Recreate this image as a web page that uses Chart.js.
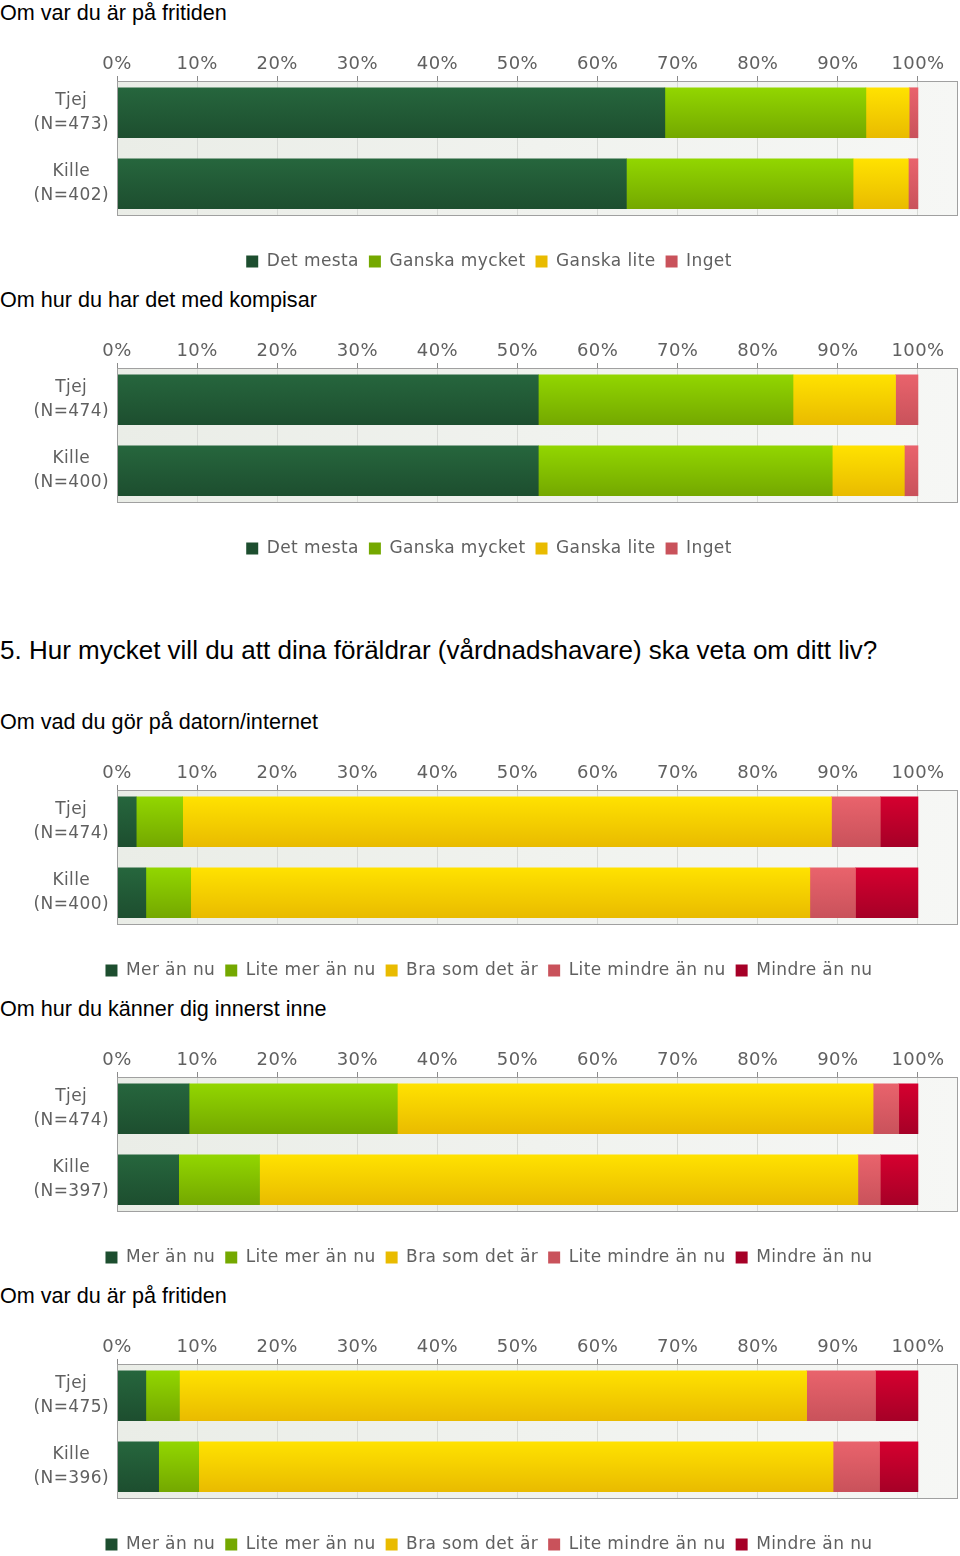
<!DOCTYPE html>
<html>
<head>
<meta charset="utf-8">
<script src="https://cdn.jsdelivr.net/npm/chart.js@4/dist/chart.umd.min.js"></script>
<style>
  html, body { margin: 0; background: #fff; overflow: hidden; }
  body { width: 960px; height: 1556px; position: relative; }
  .title { position: absolute; left: 0; font-family: "Liberation Sans", Arial, sans-serif; font-size: 21.6px; line-height: 24px; color: #000; white-space: nowrap; }
  .big { font-size: 26px; line-height: 28px; }
  canvas { position: absolute; left: 0; }
</style>
</head>
<body>
<div class="title" style="top:1px">Om var du är på fritiden</div>
<canvas id="c1" width="960" height="240" style="top:40px"></canvas>
<div class="title" style="top:288px">Om hur du har det med kompisar</div>
<canvas id="c2" width="960" height="240" style="top:327px"></canvas>
<div class="title big" style="top:636px">5. Hur mycket vill du att dina föräldrar (vårdnadshavare) ska veta om ditt liv?</div>
<div class="title" style="top:710px">Om vad du gör på datorn/internet</div>
<canvas id="c3" width="960" height="240" style="top:749px"></canvas>
<div class="title" style="top:997px">Om hur du känner dig innerst inne</div>
<canvas id="c4" width="960" height="240" style="top:1036px"></canvas>
<div class="title" style="top:1284px">Om var du är på fritiden</div>
<canvas id="c5" width="960" height="240" style="top:1323px"></canvas>

<script>
// answer scales
const scaleA = ['Det mesta', 'Ganska mycket', 'Ganska lite', 'Inget'];
const scaleB = ['Mer än nu', 'Lite mer än nu', 'Bra som det är', 'Lite mindre än nu', 'Mindre än nu'];

// x axis ticks (percent)
const tickValues = [0, 10, 20, 30, 40, 50, 60, 70, 80, 90, 100];

// chart 1 - Om var du är på fritiden
const rows1 = [['Tjej', '(N=473)'], ['Kille', '(N=402)']];
const detMesta1 = [68.4, 63.6];
const ganskaMycket1 = [25.1, 28.3];
const ganskaLite1 = [5.4, 6.9];
const inget1 = [1.1, 1.2];

// chart 2 - Om hur du har det med kompisar
const rows2 = [['Tjej', '(N=474)'], ['Kille', '(N=400)']];
const detMesta2 = [52.6, 52.6];
const ganskaMycket2 = [31.8, 36.7];
const ganskaLite2 = [12.8, 9.0];
const inget2 = [2.8, 1.7];

// chart 3 - Om vad du gör på datorn/internet
const rows3 = [['Tjej', '(N=474)'], ['Kille', '(N=400)']];
const merAnNu3 = [2.4, 3.6];
const liteMer3 = [5.8, 5.6];
const braSom3 = [81.0, 77.3];
const liteMindre3 = [6.1, 5.7];
const mindre3 = [4.7, 7.8];

// chart 4 - Om hur du känner dig innerst inne
const rows4 = [['Tjej', '(N=474)'], ['Kille', '(N=397)']];
const merAnNu4 = [9.0, 7.7];
const liteMer4 = [26.0, 10.1];
const braSom4 = [59.4, 74.7];
const liteMindre4 = [3.2, 2.8];
const mindre4 = [2.4, 4.7];

// chart 5 - Om var du är på fritiden
const rows5 = [['Tjej', '(N=475)'], ['Kille', '(N=396)']];
const merAnNu5 = [3.6, 5.2];
const liteMer5 = [4.2, 5.0];
const braSom5 = [78.3, 79.2];
const liteMindre5 = [8.6, 5.8];
const mindre5 = [5.3, 4.8];

// [solid, top, bottom]
const palette = [
    ['#235e38', '#26663d', '#1d4e2f'],
    ['#84c200', '#92d600', '#74a800'],
    ['#f3cc00', '#ffe200', '#e9bb00'],
    ['#dd5a64', '#e9636c', '#c9525b'],
    ['#c0002c', '#d5002f', '#a60027']
];

const BAR = 50;

function barFill(col) {
    return function (ctx) {
        if (ctx.type !== 'data') return col[0];
        const chart = ctx.chart;
        const ys = chart.scales.y;
        if (!ys) return col[0];
        const c = ys.getPixelForValue(ctx.dataIndex);
        if (!isFinite(c)) return col[0];
        const g = chart.ctx.createLinearGradient(0, c - BAR / 2, 0, c + BAR / 2);
        g.addColorStop(0, col[1]);
        g.addColorStop(1, col[2]);
        return g;
    };
}

const plotBg = {
    id: 'plotBg',
    beforeLayout(chart) {
        // the old chart font was set a bit wider
        chart.ctx.letterSpacing = '0.4px';
    },
    beforeDraw(chart) {
        const a = chart.chartArea;
        const ctx = chart.ctx;
        ctx.letterSpacing = '0.4px';
        const g = ctx.createLinearGradient(a.left, 0, a.right, 0);
        g.addColorStop(0, '#eaede7');
        g.addColorStop(1, '#f6f7f5');
        ctx.save();
        ctx.fillStyle = g;
        ctx.fillRect(a.left, a.top, a.right - a.left, a.bottom - a.top);
        ctx.restore();
    },
    afterDatasetsDraw(chart) {
        const a = chart.chartArea;
        const ctx = chart.ctx;
        ctx.save();
        ctx.strokeStyle = '#a0a0a0';
        ctx.lineWidth = 1;
        ctx.strokeRect(a.left + 0.5, a.top + 0.5, a.right - a.left - 1, a.bottom - a.top);
        ctx.restore();
    }
};

function makeChart(id, rows, names, series) {
    const datasets = series.map((vals, i) => ({
        label: names[i],
        data: vals.map((v, r) => ({ x: v, y: r })),
        backgroundColor: barFill(palette[i]),
        borderWidth: 0,
        barThickness: BAR
    }));
    return new Chart(id, {
        type: 'bar',
        data: { datasets: datasets },
        options: {
            indexAxis: 'y',
            responsive: false,
            animation: false,
            layout: { padding: { left: 20, right: 2, top: 0, bottom: 0 } },
            scales: {
                x: {
                    position: 'top',
                    stacked: true,
                    min: 0,
                    max: 105,
                    afterFit: s => { s.height = 41; },
                    afterBuildTicks: s => { s.ticks = tickValues.map(v => ({ value: v })); },
                    ticks: {
                        callback: v => v + '%',
                        color: '#606060',
                        padding: 1,
                        font: { family: 'DejaVu Sans', size: 18 }
                    },
                    grid: { color: '#d8dad6', tickColor: '#8a8a8a', tickLength: 5 },
                    border: { display: false }
                },
                x2: {
                    type: 'linear',
                    position: 'bottom',
                    display: true,
                    afterFit: s => { s.height = 28; },
                    ticks: { display: false },
                    grid: { display: false },
                    border: { display: false }
                },
                y: {
                    type: 'linear',
                    offset: false,
                    stacked: true,
                    reverse: true,
                    min: -0.447,
                    max: 1.44,
                    afterFit: s => { s.width = 97; },
                    afterBuildTicks: s => { s.ticks = rows.map((r, i) => ({ value: i })); },
                    ticks: {
                        callback: v => rows[v],
                        color: '#606060',
                        crossAlign: 'center',
                        padding: 0,
                        font: { family: 'DejaVu Sans', size: 17, lineHeight: 1.4 }
                    },
                    grid: { display: false },
                    border: { display: false }
                }
            },
            plugins: {
                legend: {
                    position: 'bottom',
                    labels: {
                        boxWidth: 12,
                        boxHeight: 12,
                        padding: 10,
                        color: '#606060',
                        font: { family: 'DejaVu Sans', size: 17 }
                    }
                },
                tooltip: { enabled: false }
            }
        },
        plugins: [plotBg]
    });
}

makeChart('c1', rows1, scaleA, [detMesta1, ganskaMycket1, ganskaLite1, inget1]);
makeChart('c2', rows2, scaleA, [detMesta2, ganskaMycket2, ganskaLite2, inget2]);
makeChart('c3', rows3, scaleB, [merAnNu3, liteMer3, braSom3, liteMindre3, mindre3]);
makeChart('c4', rows4, scaleB, [merAnNu4, liteMer4, braSom4, liteMindre4, mindre4]);
makeChart('c5', rows5, scaleB, [merAnNu5, liteMer5, braSom5, liteMindre5, mindre5]);
</script>
</body>
</html>
